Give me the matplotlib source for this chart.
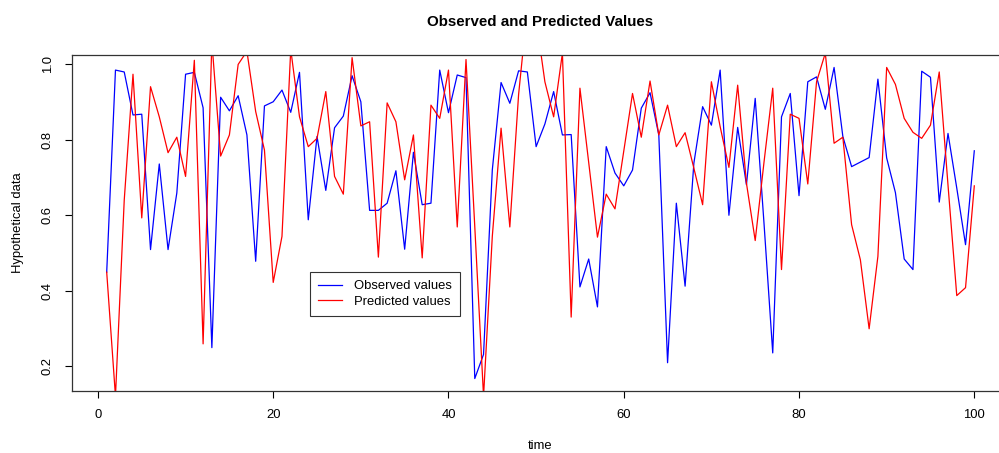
import numpy as np
import matplotlib
matplotlib.use("Agg")
import matplotlib.pyplot as plt


# ==================== DATA ====================
time = np.arange(1, 101)

observed = [
    0.449, 0.985, 0.980, 0.866, 0.868, 0.509, 0.736, 0.509, 0.659, 0.974,
    0.979, 0.885, 0.249, 0.913, 0.877, 0.917, 0.813, 0.478, 0.890, 0.901,
    0.932, 0.873, 0.979, 0.588, 0.809, 0.666, 0.832, 0.863, 0.970, 0.901,
    0.613, 0.613, 0.632, 0.718, 0.510, 0.767, 0.628, 0.632, 0.985, 0.872,
    0.972, 0.965, 0.167, 0.231, 0.720, 0.952, 0.897, 0.983, 0.980, 0.782,
    0.842, 0.928, 0.813, 0.814, 0.410, 0.484, 0.357, 0.782, 0.712, 0.678,
    0.720, 0.884, 0.925, 0.813, 0.209, 0.632, 0.412, 0.738, 0.888, 0.839,
    0.985, 0.600, 0.833, 0.681, 0.910, 0.580, 0.235, 0.861, 0.923, 0.652,
    0.954, 0.967, 0.881, 0.992, 0.809, 0.729, 0.741, 0.753, 0.961, 0.752,
    0.660, 0.484, 0.456, 0.982, 0.966, 0.635, 0.817, 0.672, 0.522, 0.771,
]

predicted = [
    0.449, 0.120, 0.640, 0.974, 0.593, 0.941, 0.861, 0.766, 0.807, 0.703,
    1.011, 0.259, 1.060, 0.757, 0.813, 1.000, 1.035, 0.875, 0.773, 0.422,
    0.544, 1.040, 0.861, 0.782, 0.804, 0.928, 0.703, 0.656, 1.018, 0.837,
    0.848, 0.489, 0.898, 0.848, 0.694, 0.813, 0.487, 0.892, 0.857, 0.985,
    0.569, 1.013, 0.570, 0.120, 0.544, 0.831, 0.569, 0.920, 1.150, 1.120,
    0.954, 0.861, 1.030, 0.330, 0.937, 0.740, 0.542, 0.656, 0.617, 0.770,
    0.923, 0.807, 0.956, 0.813, 0.892, 0.782, 0.819, 0.725, 0.628, 0.954,
    0.835, 0.727, 0.945, 0.685, 0.533, 0.740, 0.937, 0.456, 0.868, 0.857,
    0.683, 0.954, 1.030, 0.791, 0.807, 0.575, 0.482, 0.299, 0.491, 0.992,
    0.947, 0.857, 0.820, 0.804, 0.839, 0.980, 0.680, 0.387, 0.408, 0.678,
]

x_ticks = [0, 20, 40, 60, 80, 100]
y_ticks = [0.2, 0.4, 0.6, 0.8, 1.0]
y_tick_labels = ["0.2", "0.4", "0.6", "0.8", "1.0"]


# ==================== PLOT ====================
plt.rcParams['font.family'] = ['Liberation Sans', 'DejaVu Sans']

W, H = 999, 453
fig = plt.figure(figsize=(W / 100, H / 100), dpi=100)
# plot region in pixels (R style, box runs a bit past the right edge)
left, right, top, bottom = 72, 1009, 55, 391
ax = fig.add_axes([left / W, 1 - bottom / H, (right - left) / W, (bottom - top) / H])

ax.plot(time, observed, color='#0000FF', linewidth=0.9, label='Observed values')
ax.plot(time, predicted, color='#FF0000', linewidth=0.9, label='Predicted values')

# R default axis ranges: data range of the first series + 4%
xr = time.max() - time.min()
ax.set_xlim(time.min() - 0.04 * xr, time.max() + 0.04 * xr)
ymin, ymax = min(observed), max(observed)
yr = ymax - ymin
ax.set_ylim(ymin - 0.04 * yr, ymax + 0.04 * yr)

fs = 9.4
ax.set_xticks(x_ticks)
ax.set_xticklabels([str(v) for v in x_ticks])
ax.set_yticks(y_ticks)
ax.set_yticklabels(y_tick_labels, rotation=90, va='center')
ax.tick_params(axis='both', direction='out', length=5.2, width=0.8,
               labelsize=fs, pad=8, colors='black')

for sp in ax.spines.values():
    sp.set_linewidth(0.9)
    sp.set_color('#333333')

leg = ax.legend(loc='upper left', bbox_to_anchor=((310 - left) / (right - left), 1 - (271.5 - top) / (bottom - top)),
                fontsize=fs, frameon=True, fancybox=False, edgecolor='black',
                handlelength=1.8, handletextpad=0.9, labelspacing=0.25,
                borderpad=0.65, borderaxespad=0)
leg.get_frame().set_linewidth(0.8)

cx = (left + right) / 2
fig.text(cx / W, 1 - 22 / H, 'Observed and Predicted Values', ha='center', va='center',
         fontsize=10.9, fontweight='bold')
fig.text(cx / W, 1 - 446 / H, 'time', ha='center', va='center', fontsize=fs)
fig.text(18 / W, 1 - 223 / H, 'Hypothetical data', ha='center', va='center',
         rotation=90, fontsize=fs)

fig.savefig('out.png', dpi=100)
